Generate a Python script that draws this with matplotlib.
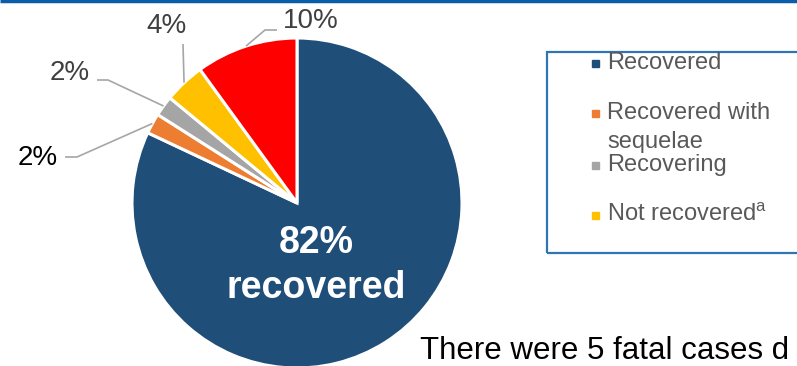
import matplotlib
matplotlib.use("Agg")
import numpy as np
import matplotlib.pyplot as plt
from matplotlib.patches import Rectangle

plt.rcParams["font.family"] = ["Liberation Sans", "DejaVu Sans"]
plt.rcParams["mathtext.fontset"] = "custom"
plt.rcParams["mathtext.rm"] = "Liberation Sans"

# outcome shares (%)
categories = ["Recovered", "Recovered with\nsequelae", "Recovering",
              "Not recovered$^{\\mathrm{a}}$", "Fatal"]
shares = [82, 2, 2, 4, 10]
colors = ["#1F4E79", "#ED7D31", "#A5A5A5", "#FFC000", "#FF0000"]
label_colors = [None, "#000000", "#404040", "#404040", "#404040"]

W, H = 797, 366
fig = plt.figure(figsize=(W / 100, H / 100), dpi=100)
ax = fig.add_axes([0, 0, 1, 1])

cx, cy, r = 297, 163, 165
wedges, _ = ax.pie(shares, colors=colors, startangle=90, counterclock=False,
                   center=(cx, cy), radius=r,
                   wedgeprops=dict(edgecolor="white", linewidth=2.2))
ax.set_xlim(0, W)
ax.set_ylim(0, H)
ax.set_aspect("equal")
ax.axis("off")

# leader elbows and label anchors for the small slices (pixel offsets)
elbows = {1: [(77, 209), (65, 209)],
          2: [(108, 286), (97, 286)],
          3: [(183, 322), (183, 322)],
          4: [(265, 336), (277, 336)]}
label_pos = {1: (58, 208, "right"), 2: (90, 293, "right"),
             3: (167, 340, "center"), 4: (283, 345, "left")}
for i in range(1, len(shares)):
    w = wedges[i]
    mid = np.deg2rad((w.theta1 + w.theta2) / 2)
    x0, y0 = cx + r * np.cos(mid), cy + r * np.sin(mid)
    pts = [(x0, y0)] + elbows[i]
    ax.plot([p[0] for p in pts], [p[1] for p in pts], color="#A6A6A6", lw=1.2,
            solid_capstyle="butt")
    lx, ly, ha = label_pos[i]
    ax.text(lx, ly, f"{shares[i]}%", ha=ha, va="center", fontsize=20,
            color=label_colors[i])

ax.text(316, 123, f"{shares[0]}%", ha="center", va="center", fontsize=27,
        fontweight="bold", color="white")
ax.text(316, 78, "recovered", ha="center", va="center", fontsize=27,
        fontweight="bold", color="white")

# legend box (first four outcomes)
ax.add_patch(Rectangle((547, H - 253), 300, 201, fill=False,
                       edgecolor="#2E75B6", lw=1.6, clip_on=True))
legend_y = [63, 113, 165, 215]
for lab, col, yd in zip(categories[:4], colors[:4], legend_y):
    yu = H - yd
    ax.add_patch(Rectangle((592, yu - 4), 7, 7, color=col))
    for k, line in enumerate(lab.split("\n")):
        ax.text(607, yu - 29 * k, line, ha="left", va="center",
                fontsize=17, color="#595959")

# header rule
ax.plot([0, W], [H - 1, H - 1], color="#0B5DAA", lw=2.5, solid_capstyle="butt")

ax.text(420, 7, "There were 5 fatal cases d", ha="left", va="baseline",
        fontsize=22.5, color="black")

fig.savefig("out.png", dpi=100)
